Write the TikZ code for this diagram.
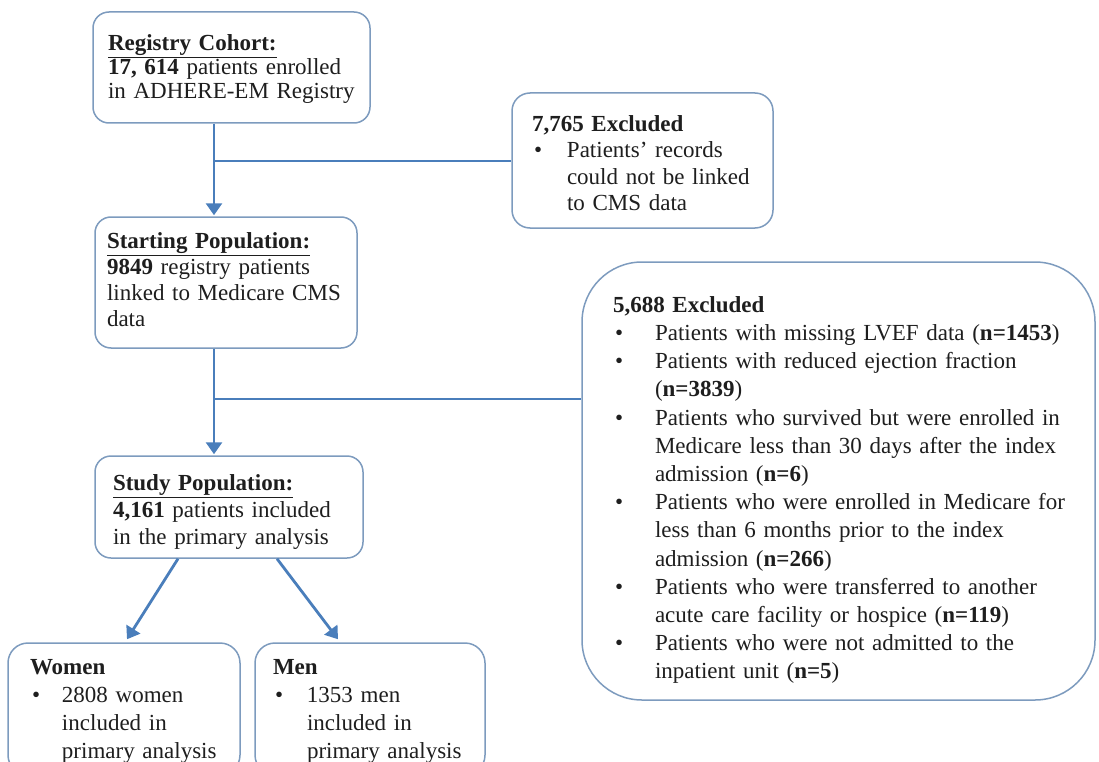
\documentclass[tikz,border=0pt]{standalone}
\usepackage{fontspec}
\setmainfont{Liberation Serif}
\usetikzlibrary{arrows.meta,calc}
\definecolor{lineblue}{RGB}{74,126,187}
\definecolor{boxblue}{RGB}{125,155,190}
\definecolor{txt}{RGB}{30,30,30}
\newcommand\bul[2]{\makebox[#1][l]{\hspace{2pt}\textbullet}\begin{tabular}[t]{@{}l@{}}#2\end{tabular}}
\newcommand\lines[2][0pt]{\raisebox{-#1}[\height][\depth]{\begin{tabular}{@{}l@{}}#2\end{tabular}}}
\tikzset{
  box/.style={draw=boxblue, line width=1.5pt, fill=white, rounded corners=16pt,
    align=left, inner ysep=0pt, text=txt, anchor=center},
  conn/.style={draw=lineblue, line width=2.8pt},
  arr/.style={conn, -{Triangle[width=16pt,length=12pt]}}
}
\begin{document}
\begin{tikzpicture}[x=1pt,y=-1pt]
\useasboundingbox (0,0) rectangle (1099,762);

\node[box, minimum width=277pt, minimum height=111pt, inner xsep=15pt, text width=247pt,
  font=\fontsize{23}{24}\selectfont] (b1) at (231.5,67.5)
  {\lines[2pt]{\underline{\textbf{Registry Cohort:}}\\\textbf{17, 614} patients enrolled\\in ADHERE-EM Registry}};

\node[box, minimum width=261pt, minimum height=135pt, inner xsep=20pt, text width=221pt,
  font=\fontsize{23}{26.5}\selectfont, rounded corners=18pt] (b2) at (642.5,160.5)
  {\lines[5pt]{\textbf{7,765 Excluded}\\\bul{35pt}{Patients’ records\\could not be linked\\to CMS data}}};

\node[box, minimum width=262pt, minimum height=131pt, inner xsep=12pt, text width=238pt,
  font=\fontsize{23}{26}\selectfont] (b3) at (226,282.5)
  {\lines{\underline{\textbf{Starting Population:}}\\\textbf{9849} registry patients\\linked to Medicare CMS\\data}};

\node[box, minimum width=513pt, minimum height=438pt, inner xsep=31pt, text width=451pt,
  font=\fontsize{23}{28.2}\selectfont, rounded corners=60pt] (b4) at (838.5,481)
  {\lines[9pt]{\textbf{5,688 Excluded}\\
   \bul{42pt}{Patients with missing LVEF data (\textbf{n=1453})}\\
   \bul{42pt}{Patients with reduced ejection fraction\\(\textbf{n=3839})}\\
   \bul{42pt}{Patients who survived but were enrolled in\\Medicare less than 30 days after the index\\admission (\textbf{n=6})}\\
   \bul{42pt}{Patients who were enrolled in Medicare for\\less than 6 months prior to the index\\admission (\textbf{n=266})}\\
   \bul{42pt}{Patients who were transferred to another\\acute care facility or hospice (\textbf{n=119})}\\
   \bul{42pt}{Patients who were not admitted to the\\inpatient unit (\textbf{n=5})}}};

\node[box, minimum width=268pt, minimum height=102pt, inner xsep=18pt, text width=232pt,
  font=\fontsize{23}{27}\selectfont] (b5) at (229,507)
  {\lines[5pt]{\underline{\textbf{Study Population:}}\\\textbf{4,161} patients included\\in the primary analysis}};

\node[box, minimum width=232pt, minimum height=132pt, inner xsep=22pt, text width=188pt,
  font=\fontsize{23}{27.7}\selectfont, rounded corners=20pt] (bw) at (124,709)
  {\lines[2pt]{\textbf{Women}\\\bul{32pt}{2808 women\\included in\\primary analysis}}};

\node[box, minimum width=230pt, minimum height=132pt, inner xsep=18pt, text width=194pt,
  font=\fontsize{23}{27.7}\selectfont, rounded corners=20pt] (bm) at (370,709)
  {\lines[2pt]{\textbf{Men}\\\bul{34pt}{1353 men\\included in\\primary analysis}}};

\coordinate (j1) at (214,161);
\coordinate (j2) at (214,399);
\coordinate (d1s) at (178,0);
\coordinate (d1e) at (127,0);
\coordinate (d2s) at (277,0);
\coordinate (d2e) at (338,0);

\draw[arr] (j1 |- b1.south) -- ([yshift=1pt]j1 |- b3.north);
\draw[conn] (j1) -- (j1 -| b2.west);
\draw[arr] (j2 |- b3.south) -- ([yshift=1pt]j2 |- b5.north);
\draw[conn] (j2) -- (j2 -| b4.west);
\draw[arr] (d1s |- b5.south) -- ([yshift=3pt]d1e |- bw.north);
\draw[arr] (d2s |- b5.south) -- ([yshift=3pt]d2e |- bm.north);
\end{tikzpicture}
\end{document}
